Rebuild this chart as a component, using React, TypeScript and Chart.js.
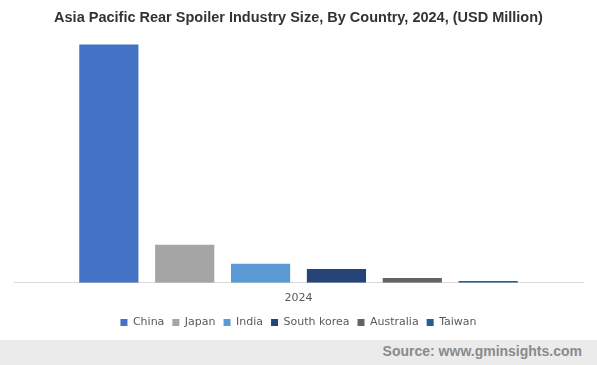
import React, { useEffect, useRef } from "react";
import { Chart, registerables } from "chart.js";

Chart.register(...registerables);

const categories = ["2024"];
const countries = ["China", "Japan", "India", "South korea", "Australia", "Taiwan"];
const values = [640, 102, 51, 37, 13, 5];
const colors = ["#4472c4", "#a5a5a5", "#5b9bd5", "#264478", "#636363", "#255e91"];
const yMax = 659;

export default function App() {
  const ref = useRef<HTMLCanvasElement | null>(null);
  useEffect(() => {
    document.body.style.margin = "0";
    if (!ref.current) return;
    const chart = new Chart(ref.current, {
      type: "bar",
      data: {
        labels: categories,
        datasets: countries.map((c, i) => ({
          label: c,
          data: [values[i]],
          backgroundColor: colors[i],
          borderWidth: 0,
          barPercentage: 0.78,
          categoryPercentage: 0.8,
        })),
      },
      options: {
        animation: false,
        responsive: false,
        layout: { padding: { left: 14, right: 14, top: 7, bottom: 2 } },
        plugins: {
          title: {
            display: true,
            text: "Asia Pacific Rear Spoiler Industry Size, By Country, 2024, (USD Million)",
            color: "#333333",
            font: { family: "Liberation Sans, Arial, sans-serif", size: 14.5, weight: "bold" },
            padding: { top: 2, bottom: 11 },
          },
          legend: {
            position: "bottom",
            labels: {
              usePointStyle: true,
              pointStyle: "rect",
              boxWidth: 7,
              boxHeight: 7,
              padding: 8,
              color: "#595959",
              font: { family: "DejaVu Sans, Verdana, sans-serif", size: 11 },
            },
          },
          tooltip: { enabled: false },
        },
        scales: {
          x: {
            grid: { display: false, drawTicks: false },
            border: { display: true, color: "#d9d9d9", width: 1 },
            ticks: {
              color: "#595959",
              padding: 9,
              font: { family: "DejaVu Sans, Verdana, sans-serif", size: 11 },
            },
            afterFit: (scale: any) => {
              scale.height -= 5;
            },
          },
          y: {
            display: false,
            min: 0,
            max: yMax,
          },
        },
      },
    });
    return () => chart.destroy();
  }, []);
  return (
    <div style={{ position: "relative", width: 597, height: 365, background: "#fff", overflow: "hidden" }}>
      <canvas ref={ref} width={597} height={340} style={{ display: "block" }} />
      <div
        style={{
          position: "absolute",
          left: 0,
          top: 340,
          width: 597,
          height: 25,
          background: "#ebebeb",
        }}
      >
        <div
          style={{
            position: "absolute",
            right: 15,
            top: 3,
            fontFamily: "Liberation Sans, Arial, sans-serif",
            fontWeight: "bold",
            fontSize: 14,
            color: "#8a8a8a",
          }}
        >
          Source: www.gminsights.com
        </div>
      </div>
    </div>
  );
}
